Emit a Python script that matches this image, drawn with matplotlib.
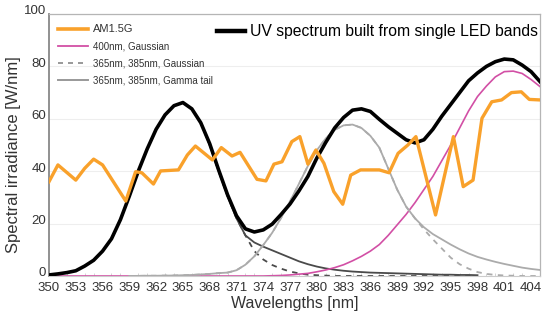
import numpy as np
import matplotlib
matplotlib.use("Agg")
import matplotlib.pyplot as plt
import matplotlib.transforms as mtransforms
from matplotlib.lines import Line2D
from matplotlib.ticker import MultipleLocator

# Datos
wl = list(range(350, 406))

total_uv = [0.4, 0.8, 1.3, 2.0, 3.8, 6.0, 9.5, 14.2, 21.5, 30.5,
            40.0, 48.5, 56.0, 61.5, 65.0, 66.2, 63.8, 58.5, 50.5, 40.5,
            31.0, 23.0, 18.0, 16.8, 17.6, 19.8, 23.5, 27.5, 32.5, 38.0,
            45.0, 51.0, 56.5, 60.5, 63.3, 63.8, 62.8, 59.8, 57.0, 54.5,
            52.0, 50.8, 52.0, 56.0, 61.0, 65.5, 70.0, 74.5, 77.5, 80.0,
            81.8, 82.8, 82.5, 80.5, 78.0, 74.2]

led400_gauss = [0] * 25 + [0.1, 0.2, 0.4, 0.7, 1.0, 1.6, 2.3, 3.2, 4.3, 5.8,
                           7.5, 9.5, 12.0, 15.5, 19.5, 23.5, 28.0, 33.0, 38.0, 44.0,
                           50.0, 56.5, 63.0, 68.5, 72.5, 76.0, 78.0, 78.2, 77.3, 75.0,
                           72.3]

wl365 = list(range(350, 399))
led365_gauss = [0.4, 0.8, 1.3, 2.0, 3.8, 6.0, 9.5, 14.2, 21.5, 30.5,
                40.0, 48.5, 56.0, 61.5, 65.0, 66.2, 63.8, 58.5, 50.0, 40.0,
                30.5, 22.0, 15.5, 9.5, 6.3, 4.2, 2.8, 1.7, 1.0, 0.5,
                0.3, 0.15, 0, 0, 0, 0, 0, 0, 0, 0,
                0, 0, 0, 0, 0, 0, 0, 0, 0]
led365_gamma = [0.4, 0.8, 1.3, 2.0, 3.8, 6.0, 9.5, 14.2, 21.5, 30.5,
                40.0, 48.5, 56.0, 61.5, 65.0, 66.2, 63.8, 58.5, 50.0, 40.0,
                30.5, 22.0, 15.5, 12.8, 11.2, 9.8, 8.4, 7.0, 5.6, 4.5,
                3.6, 2.9, 2.4, 2.0, 1.7, 1.5, 1.3, 1.2, 1.1, 1.0,
                0.9, 0.8, 0.7, 0.6, 0.5, 0.5, 0.4, 0.4, 0.3]

wl385 = list(range(359, 406))
led385_gauss = [0, 0.05, 0.1, 0.1, 0.15, 0.2, 0.3, 0.4, 0.6, 0.8,
                1.1, 1.3, 2.2, 4.3, 7.5, 11.8, 16.5, 22.2, 28.5, 35.2,
                42.0, 48.0, 52.5, 55.8, 57.5, 57.8, 56.5, 53.5, 49.0, 41.0,
                33.0, 26.5, 22.0, 17.8, 14.0, 10.5, 7.0, 4.5, 2.8, 1.5,
                0.8, 0.4, 0.2, 0.1, 0, 0, 0]
led385_gamma = [0, 0.05, 0.1, 0.1, 0.15, 0.2, 0.3, 0.4, 0.6, 0.8,
                1.1, 1.3, 2.2, 4.3, 7.5, 11.8, 16.5, 22.2, 28.5, 35.2,
                42.0, 48.0, 52.5, 55.8, 57.5, 57.8, 56.5, 53.5, 49.0, 41.0,
                33.0, 26.5, 22.0, 18.6, 16.0, 14.0, 12.0, 10.2, 8.6, 7.3,
                6.3, 5.4, 4.6, 3.9, 3.2, 2.7, 2.3]

am15_wl = [350, 351, 353, 354, 355, 356, 357.3, 358.6, 359.7, 360.4,
           361.7, 362.5, 364.5, 365.5, 366.4, 368.3, 369.3, 370.5, 371.4, 373.3,
           374.3, 375.2, 376.1, 377.2, 378.1, 379.0, 379.9, 380.8, 381.9, 382.9,
           383.8, 384.9, 387.0, 388.1, 389.1, 390.2, 391.1, 393.3, 395.3, 396.4,
           397.5, 398.5, 399.6, 400.7, 401.8, 402.9, 403.8, 405]
am15 = [36.0, 42.4, 36.6, 41.1, 44.6, 42.4, 35.5, 28.6, 39.8, 39.4,
        35.1, 40.1, 40.5, 46.2, 49.6, 44.3, 49.0, 45.8, 47.2, 36.9,
        36.3, 42.7, 43.6, 51.3, 53.2, 42.7, 48.1, 43.0, 32.2, 27.4,
        38.5, 40.5, 40.5, 39.4, 46.8, 50.0, 53.2, 23.3, 53.2, 34.1,
        36.6, 60.2, 66.5, 67.2, 70.0, 70.3, 67.4, 67.2]

x_ticks = list(range(350, 405, 3))
y_ticks = [0, 20, 40, 60, 80, 100]

C_ORANGE = "#F9A12B"
C_MAGENTA = "#D24FA5"
C_DARK = "#4A4A4A"
C_LIGHT = "#ABABAB"
C_TEXT = "#333333"
C_FRAME = "#B5B5B5"

plt.rcParams["font.family"] = ["Liberation Sans", "DejaVu Sans"]

fig = plt.figure(figsize=(5.54, 3.26), dpi=100)
ax = fig.add_axes([49 / 554, 1 - 276 / 326, 491 / 554, 262 / 326])

# orden: 365 oscuro abajo, luego magenta, luego gris 385
ax.plot(wl365, led365_gauss, color=C_DARK, lw=1.3, ls=(0, (3, 3)), zorder=2)
ax.plot(wl365, led365_gamma, color=C_DARK, lw=1.3, zorder=2)
ax.plot(wl, led400_gauss, color=C_MAGENTA, lw=1.2, zorder=2.5)
ax.plot(wl385, led385_gauss, color=C_LIGHT, lw=1.3, ls=(0, (3, 3)), zorder=3)
ax.plot(wl385, led385_gamma, color=C_LIGHT, lw=1.3, zorder=3)
ax.plot(wl, total_uv, color="black", lw=2.6, zorder=4)
ax.plot(am15_wl, am15, color=C_ORANGE, lw=2.4, zorder=5)

ax.set_xlim(350, 405)
ax.set_ylim(0, 100)
ax.set_xticks(x_ticks)
ax.set_yticks(y_ticks)
ax.xaxis.set_minor_locator(MultipleLocator(1))
ax.tick_params(axis="both", which="major", length=0, labelsize=9.5,
               labelcolor=C_TEXT)
ax.tick_params(axis="x", which="major", pad=4.5)
ax.tick_params(axis="y", which="major", pad=2)
ax.tick_params(axis="x", which="minor", length=2.5, direction="in",
               color="#CCCCCC", width=0.6)
ax.grid(axis="y", color="#EEEEEE", lw=0.8, zorder=0)

# subir un poco las etiquetas del eje y para que el 0 no choque con 350
up = mtransforms.ScaledTranslation(0, 3 / 72, fig.dpi_scale_trans)
for lbl in ax.get_yticklabels():
    lbl.set_transform(lbl.get_transform() + up)

for s in ["top", "right"]:
    ax.spines[s].set_color(C_FRAME)
    ax.spines[s].set_linewidth(0.9)
ax.spines["left"].set_color("#888888")
ax.spines["left"].set_linewidth(1.3)
ax.spines["bottom"].set_color("#CCCCCC")
ax.spines["bottom"].set_linewidth(0.8)

ax.set_xlabel("Wavelengths [nm]", fontsize=11.5, color=C_TEXT, labelpad=1)
ax.set_ylabel("Spectral irradiance [W/nm]", fontsize=12, color=C_TEXT)
ax.yaxis.set_label_coords(-0.057, 0.465)

# leyenda de componentes
h_left = [
    Line2D([], [], color=C_ORANGE, lw=2.6),
    Line2D([], [], color=C_MAGENTA, lw=1.3),
    Line2D([], [], color="#888888", lw=1.2, ls=(0, (3, 3))),
    Line2D([], [], color="#999999", lw=1.4),
]
lab_left = ["AM1.5G", "400nm, Gaussian", "365nm, 385nm, Gaussian",
            "365nm, 385nm, Gamma tail"]
leg1 = ax.legend(h_left, lab_left, loc="upper left", bbox_to_anchor=(0.018, 0.962),
                 frameon=False, borderpad=0, borderaxespad=0, handlelength=3.1,
                 handletextpad=0.5, labelspacing=0.75,
                 prop={"size": 7})
for t in leg1.get_texts():
    t.set_color(C_TEXT)
leg1.get_texts()[0].set_fontsize(8)
ax.add_artist(leg1)

ax.legend([Line2D([], [], color="black", lw=3.2)],
          ["UV spectrum built from single LED bands"],
          loc="upper left", bbox_to_anchor=(0.342, 0.96), frameon=False,
          borderpad=0, borderaxespad=0, handlelength=1.8, handletextpad=0.3,
          prop={"size": 11.3}, labelcolor="black")

fig.savefig("out.png", dpi=100)
